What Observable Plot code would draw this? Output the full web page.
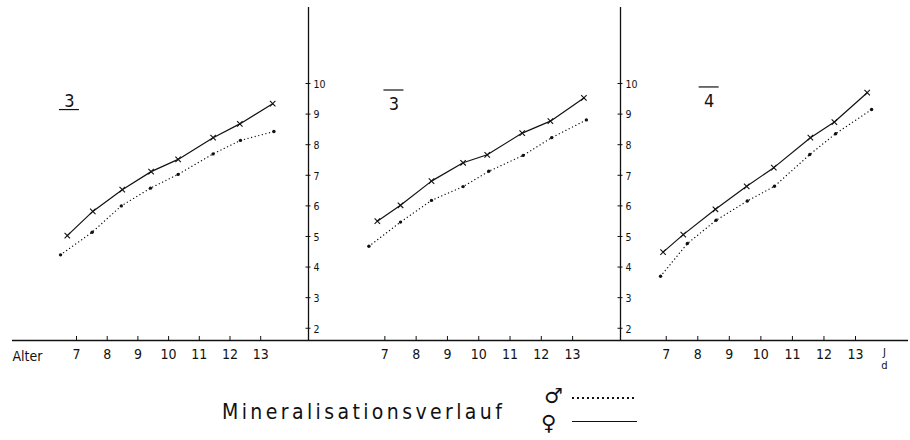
<!DOCTYPE html>
<html>
<head>
<meta charset="utf-8">
<script src="https://cdn.jsdelivr.net/npm/d3@7"></script>
<script src="https://cdn.jsdelivr.net/npm/@observablehq/plot@0.6"></script>
<style>
  body { margin: 0; background: #fff; }
  #root { position: relative; width: 910px; height: 440px; overflow: hidden; font-family: "DejaVu Sans", sans-serif; color: #111; }
  .panel { position: absolute; top: 0; }
  .legend-title { position: absolute; left: 222px; top: 400px; font-family: "DejaVu Sans Condensed", "DejaVu Sans", sans-serif; font-size: 21px; line-height: 24px; font-weight: 400; letter-spacing: 3.4px; white-space: nowrap; color: #111; }
  .sym { position: absolute; font-size: 21px; line-height: 21px; font-weight: 700; color: #111; }
  .sample { position: absolute; left: 572px; width: 65px; }
</style>
</head>
<body>
<div id="root"></div>
<script>
// ---- data ----
const xTicks = [7, 8, 9, 10, 11, 12, 13];
const yTicks = [2, 3, 4, 5, 6, 7, 8, 9, 10];
const panelNames = ["3", "3", "4"];          // tooth labels
const panelMarks = ["under", "over", "over"]; // bar below / above the numeral
const seriesNames = ["♂", "♀"];              // ♂ dotted, ♀ solid

// Panel 1 (3 underlined)
const agesF1 = [6.70, 7.53, 8.49, 9.43, 10.31, 11.45, 12.32, 13.39];
const valsF1 = [5.03, 5.82, 6.53, 7.12, 7.52, 8.23, 8.68, 9.34];
const agesM1 = [6.48, 7.51, 8.46, 9.41, 10.31, 11.45, 12.34, 13.43];
const valsM1 = [4.40, 5.14, 6.00, 6.58, 7.03, 7.70, 8.14, 8.43];
// Panel 2 (3 overlined)
const agesF2 = [6.76, 7.50, 8.49, 9.50, 10.27, 11.39, 12.29, 13.36];
const valsF2 = [5.50, 6.02, 6.81, 7.41, 7.67, 8.38, 8.77, 9.53];
const agesM2 = [6.49, 7.50, 8.49, 9.50, 10.32, 11.42, 12.33, 13.44];
const valsM2 = [4.68, 5.47, 6.18, 6.63, 7.13, 7.65, 8.23, 8.81];
// Panel 3 (4 overlined)
const agesF3 = [6.90, 7.54, 8.56, 9.55, 10.41, 11.57, 12.33, 13.37];
const valsF3 = [4.49, 5.06, 5.89, 6.64, 7.25, 8.23, 8.74, 9.70];
const agesM3 = [6.82, 7.67, 8.58, 9.57, 10.43, 11.55, 12.37, 13.51];
const valsM3 = [3.70, 4.77, 5.53, 6.16, 6.64, 7.68, 8.36, 9.15];

const xLabel = "Alter";
const unitTop = "J";
const unitBottom = "d";
const legendTitle = "Mineralisationsverlauf";

// ---- layout ----
const ink = "#111";
const condensed = "DejaVu Sans Condensed, DejaVu Sans, sans-serif";
const yDomain = [1.6, 12.55];
const H = 380, MT = 5, MB = 40;
const panels = [
  {left: 0,   width: 308, ml: 12, mr: 0, xd: [4.915, 14.557], yAxis: false, F: [agesF1, valsF1], M: [agesM1, valsM1], lab: [6.77, 9.41]},
  {left: 300, width: 320, ml: 8,  mr: 0, xd: [4.56, 14.53],  yAxis: true,  F: [agesF2, valsF2], M: [agesM2, valsM2], lab: [7.29, 9.33]},
  {left: 612, width: 298, ml: 8,  mr: 2, xd: [5.55, 14.68],  yAxis: true,  F: [agesF3, valsF3], M: [agesM3, valsM3], lab: [8.36, 9.43]}
];

const root = document.getElementById("root");

panels.forEach((p, k) => {
  const dataF = p.F[0].map((a, i) => ({age: a, v: p.F[1][i], s: seriesNames[1]}));
  const dataM = p.M[0].map((a, i) => ({age: a, v: p.M[1][i], s: seriesNames[0]}));
  const x0 = p.xd[0];
  const base = yDomain[0];
  const marks = [
    Plot.ruleY([base], {stroke: ink, strokeWidth: 1.3}),
    Plot.ruleX(xTicks, {x: d => d, y1: () => base, y2: () => base, insetTop: -4, insetBottom: 0, stroke: ink, strokeWidth: 1}),
    Plot.axisX(xTicks, {anchor: "bottom", tickSize: 0, tickPadding: 9, fontSize: 14, fontFamily: condensed, label: null, fill: ink}),
    Plot.line(dataM, {x: "age", y: "v", stroke: ink, strokeWidth: 1.3, strokeDasharray: "0.1 3.6", strokeLinecap: "round"}),
    Plot.dot(dataM, {x: "age", y: "v", r: 1.7, fill: ink, stroke: null}),
    Plot.line(dataF, {x: "age", y: "v", stroke: ink, strokeWidth: 1.2}),
    Plot.dot(dataF, {x: "age", y: "v", symbol: "times", r: 2.6, stroke: ink, strokeWidth: 1.1}),
    Plot.text([panelNames[k]], {x: () => p.lab[0], y: () => p.lab[1], text: d => d, fontSize: 18, fontFamily: condensed, fill: ink}),
    Plot.ruleY([p.lab[1]], {x1: () => p.lab[0], x2: () => p.lab[0], insetLeft: -10, insetRight: -10,
      dy: panelMarks[k] === "under" ? 8 : -14, stroke: ink, strokeWidth: 1.2})
  ];
  if (p.yAxis) {
    marks.push(
      Plot.ruleX([x0], {y1: () => yDomain[0], y2: () => yDomain[1], insetBottom: -2, stroke: ink, strokeWidth: 1.3}),
      Plot.ruleY(yTicks, {y: d => d, x1: () => x0, x2: () => x0, insetLeft: -2.5, insetRight: -2.5, stroke: ink}),
      Plot.text(yTicks, {x: () => x0, y: d => d, text: d => String(d), dx: 5, dy: 1, textAnchor: "start", fontSize: 10.5, fontFamily: condensed, fill: ink})
    );
  }
  if (k === 0) {
    marks.push(Plot.text([xLabel], {x: () => 5.4, y: () => base, text: d => d, dy: 16, fontSize: 14, fontFamily: condensed, fill: ink}));
  }
  if (k === 2) {
    marks.push(
      Plot.text([unitTop], {x: () => 13.92, y: () => base, text: d => d, dy: 12, fontSize: 10, fill: ink}),
      Plot.text([unitBottom], {x: () => 13.92, y: () => base, text: d => d, dy: 25, fontSize: 10, fill: ink})
    );
  }
  const svg = Plot.plot({
    width: p.width, height: H,
    marginLeft: p.ml, marginRight: p.mr, marginTop: MT, marginBottom: MB,
    x: {domain: p.xd},
    y: {domain: yDomain, axis: null},
    style: {background: "transparent", overflow: "visible", fontFamily: "DejaVu Sans, sans-serif", color: ink},
    marks
  });
  const wrap = document.createElement("div");
  wrap.className = "panel";
  wrap.style.left = p.left + "px";
  wrap.style.width = p.width + "px";
  wrap.appendChild(svg);
  root.appendChild(wrap);
});

// ---- legend below the charts ----
const t = document.createElement("div");
t.className = "legend-title";
t.textContent = legendTitle;
root.appendChild(t);

const male = document.createElement("div");
male.className = "sym"; male.style.left = "544px"; male.style.top = "386px";
male.textContent = seriesNames[0];
root.appendChild(male);
const female = document.createElement("div");
female.className = "sym"; female.style.left = "541px"; female.style.top = "413px";
female.textContent = seriesNames[1];
root.appendChild(female);

const dotted = document.createElement("div");
dotted.className = "sample"; dotted.style.top = "397px"; dotted.style.height = "1.6px";
dotted.style.background = "repeating-linear-gradient(to right, " + ink + " 0 1.6px, transparent 1.6px 5px)";
root.appendChild(dotted);
const solid = document.createElement("div");
solid.className = "sample"; solid.style.top = "421px"; solid.style.height = "0"; solid.style.borderTop = "1.6px solid " + ink;
root.appendChild(solid);
</script>
</body>
</html>
